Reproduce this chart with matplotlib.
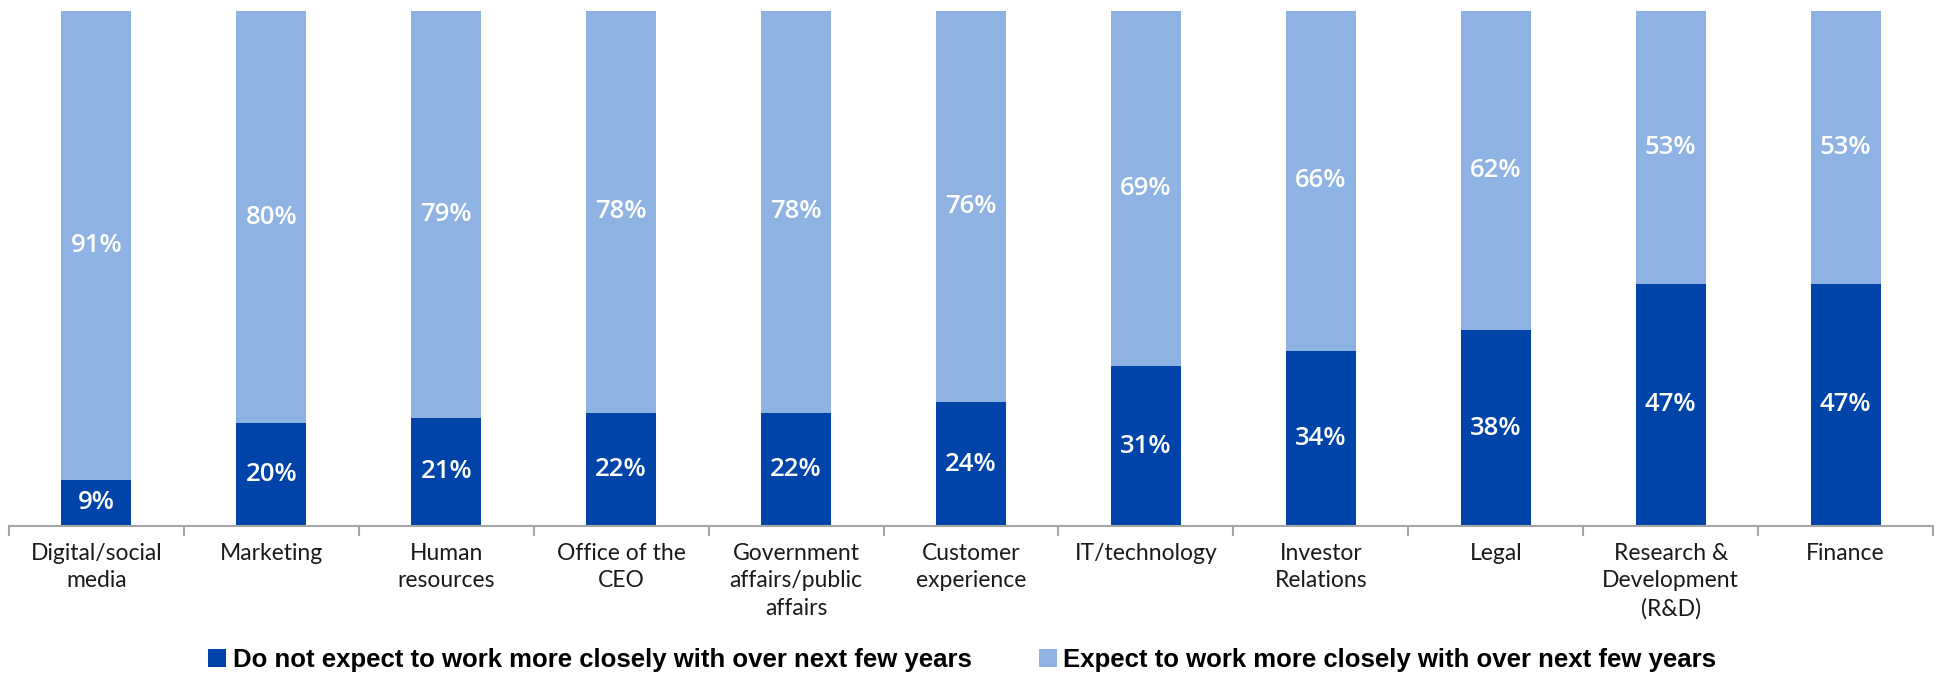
import matplotlib.pyplot as plt
import numpy as np
from matplotlib.patches import Patch

#----- Data -----
categories = [
    "Digital/social\nmedia", "Marketing", "Human\nresources", "Office of the\nCEO",
    "Government\naffairs/public\naffairs", "Customer\nexperience", "IT/technology",
    "Investor\nRelations", "Legal", "Research &\nDevelopment\n(R&D)", "Finance",
]
not_closer = [9, 20, 21, 22, 22, 24, 31, 34, 38, 47, 47]
closer = [91, 80, 79, 78, 78, 76, 69, 66, 62, 53, 53]

series_names = [
    "Do not expect to work more closely with over next few years",
    "Expect to work more closely with over next few years",
]

dark_blue = "#0043A9"
light_blue = "#8EB3E2"
axis_grey = "#A6A6A6"

#----- Figure -----
fig = plt.figure(figsize=(19.36, 6.75), dpi=100)
ax = fig.add_axes([9 / 1936, 149 / 675, 1924 / 1936, 515 / 675])

x = np.arange(len(categories))
width = 0.4
ax.bar(x, not_closer, width, color=dark_blue, edgecolor="none")
ax.bar(x, closer, width, bottom=not_closer, color=light_blue, edgecolor="none")

#--- Value labels in the middle of each segment ---
for xi, lo, hi in zip(x, not_closer, closer):
    for yc, v in [(lo / 2, lo), (lo + hi / 2, hi)]:
        ax.text(xi, yc, "%d%%" % v, ha="center", va="center", color="white",
                fontsize=18.5, fontweight="semibold", family="Open Sans")

ax.set_xlim(-0.5, len(categories) - 0.5)
ax.set_ylim(0, 100)

#--- Axis styling ---
for s in ["top", "right", "left"]:
    ax.spines[s].set_visible(False)
ax.spines["bottom"].set_color(axis_grey)
ax.spines["bottom"].set_linewidth(1.5)
ax.set_yticks([])

ax.set_xticks(x)
ax.set_xticklabels(categories, fontsize=16.5, family="Lato", color="#1a1a1a",
                   linespacing=1.4)
ax.tick_params(axis="x", which="major", length=0, pad=12)
ax.set_xticks(np.arange(-0.5, len(categories), 1), minor=True)
ax.tick_params(axis="x", which="minor", length=7, width=1.5, color=axis_grey)

#--- Legend ---
handles = [Patch(facecolor=dark_blue), Patch(facecolor=light_blue)]
fig.legend(handles, series_names, loc="center", bbox_to_anchor=(0.497, 0.022),
           ncol=2, frameon=False, handlelength=0.7, handleheight=0.7,
           handletextpad=0.25, columnspacing=2.6,
           prop={"family": "Liberation Sans", "weight": "bold", "size": 18.5})

plt.savefig("out.png", dpi=100)
plt.close()
